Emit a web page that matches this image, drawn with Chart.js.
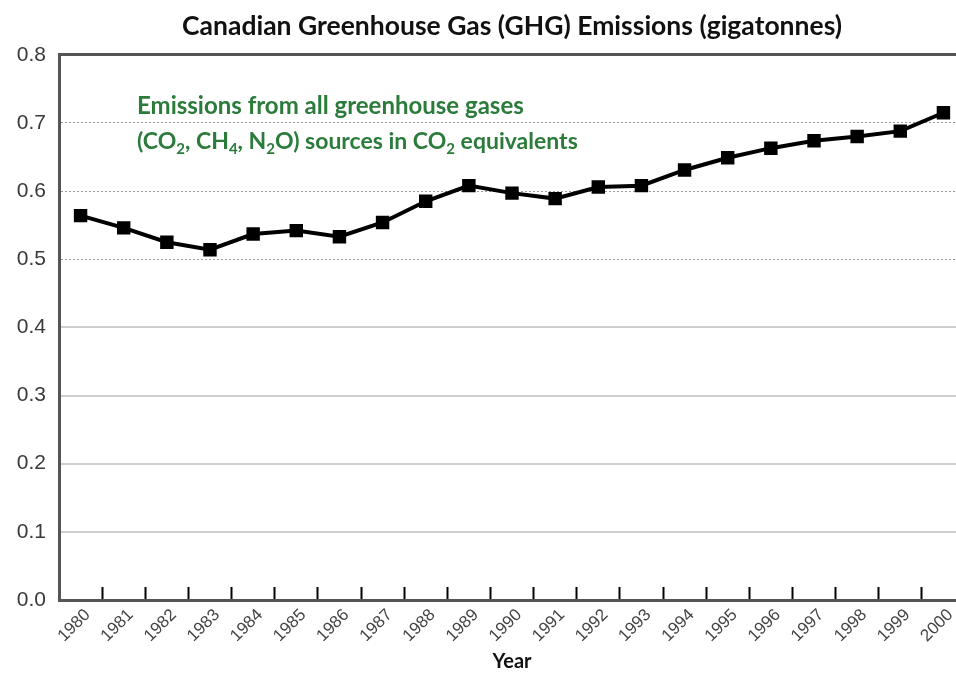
<!DOCTYPE html>
<html>
<head>
<meta charset="utf-8">
<script src="https://cdn.jsdelivr.net/npm/chart.js@4.4.1/dist/chart.umd.min.js"></script>
<style>
  html, body { margin: 0; padding: 0; background: #fff; overflow: hidden; }
  #wrap { width: 956px; height: 675px; overflow: hidden; }
</style>
</head>
<body>
<div id="wrap"><canvas id="chart1" width="965" height="675"></canvas></div>
<script>
const years = ["1980","1981","1982","1983","1984","1985","1986","1987","1988","1989","1990",
  "1991","1992","1993","1994","1995","1996","1997","1998","1999","2000"];
const emissions = [0.564, 0.546, 0.525, 0.514, 0.537, 0.542, 0.533, 0.554, 0.585, 0.608, 0.597,
  0.589, 0.606, 0.608, 0.631, 0.649, 0.663, 0.674, 0.680, 0.688, 0.715];
const titleText = "Canadian Greenhouse Gas (GHG) Emissions (gigatonnes)";
const noteLine1 = "Emissions from all greenhouse gases";
// second line: [text, isSubscript]
const noteLine2 = [["(CO",0],["2",1],[", CH",0],["4",1],[", N",0],["2",1],["O) sources in CO",0],["2",1],[" equivalents",0]];

const notePlugin = {
  id: "note",
  afterDraw(chart) {
    const ctx = chart.ctx;
    const left = chart.chartArea.left + 78;
    ctx.save();
    ctx.fillStyle = "#2b7b3b";
    ctx.textBaseline = "alphabetic";
    ctx.font = "bold 24px Lato";
    ctx.fillText(noteLine1, left, 114);
    let x = left;
    noteLine2.forEach(([t, sub]) => {
      ctx.font = sub ? "bold 15px Lato" : "bold 23px Lato";
      ctx.fillText(t, x, sub ? 154 : 149);
      x += ctx.measureText(t).width;
    });
    ctx.restore();
  }
};

const ctx = document.getElementById("chart1").getContext("2d");
const chart = new Chart(ctx, {
  type: "line",
  data: {
    labels: years,
    datasets: [{
      label: "GHG emissions",
      data: emissions,
      borderColor: "#000",
      backgroundColor: "#000",
      borderWidth: 4,
      pointStyle: "rect",
      pointRadius: 9.5,
      pointBorderWidth: 0,
      tension: 0
    }]
  },
  options: {
    responsive: false,
    animation: false,
    layout: { autoPadding: false, padding: 0 },
    plugins: {
      legend: { display: false },
      tooltip: { enabled: false },
      title: {
        display: true,
        text: titleText,
        fullSize: false,
        color: "#111",
        font: { family: "Lato", size: 26.5, weight: "bold" },
        padding: { top: 11, bottom: 12 }
      }
    },
    scales: {
      x: {
        offset: true,
        grid: {
          offset: true,
          drawOnChartArea: false,
          drawTicks: true,
          tickLength: -13,
          tickColor: "#000",
          tickWidth: 2
        },
        border: { color: "#555", width: 3 },
        ticks: {
          minRotation: 45,
          maxRotation: 45,
          autoSkip: false,
          padding: 18,
          labelOffset: 7,
          color: "#444",
          font: { family: "Liberation Sans", size: 17 }
        },
        title: {
          display: true,
          text: "Year",
          color: "#111",
          font: { family: "Lato", size: 20, weight: "bold" },
          padding: { top: 0, bottom: 1 }
        },
        afterFit(scale) {
          scale.height = 75;
          scale.paddingLeft = 0;
          scale.paddingRight = 0;
        }
      },
      y: {
        min: 0,
        max: 0.8,
        ticks: {
          stepSize: 0.1,
          padding: 13,
          color: "#3a3a3a",
          font: { family: "Liberation Sans", size: 21 },
          callback: v => v.toFixed(1)
        },
        grid: {
          drawTicks: false,
          color: c => c.tick && c.tick.value > 0.75 ? "#555" : (c.tick && c.tick.value > 0.45 ? "#999" : "#cfcfcf"),
          lineWidth: c => c.tick && c.tick.value > 0.75 ? 3 : (c.tick && c.tick.value > 0.45 ? 1 : 2)
        },
        border: {
          color: "#555",
          width: 3,
          dash: c => (c.tick && c.tick.value > 0.45 && c.tick.value < 0.75) ? [2, 2] : []
        },
        afterFit(scale) {
          scale.width = 59;
          scale.paddingTop = 0;
          scale.paddingBottom = 0;
        }
      }
    }
  },
  plugins: [notePlugin]
});
</script>
</body>
</html>
